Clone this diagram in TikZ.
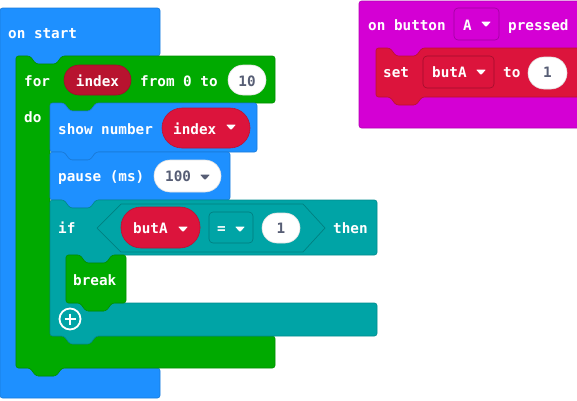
\documentclass[tikz,border=0pt]{standalone}
\usepackage{fontspec}
\newfontfamily\mcfont{DejaVu Sans Mono}
\definecolor{mcblue}{HTML}{1E90FF}
\definecolor{mcgreen}{HTML}{00AA00}
\definecolor{mcteal}{HTML}{00A4A6}
\definecolor{mcred}{HTML}{DC143C}
\definecolor{mcdark}{HTML}{B8132F}
\definecolor{mcmag}{HTML}{D400D4}
\definecolor{mcgray}{HTML}{575E75}
% small dropdown arrow
\newcommand\mctri[3]{\fill[#3, rounded corners=0.8pt] (#1-5,#2-2.5) -- (#1+5,#2-2.5) -- (#1,#2+3) -- cycle;}
\tikzset{
  dipR/.style 2 args={insert path={-- (#1+14,#2) -- (#1+20,#2+8) -- (#1+40,#2+8) -- (#1+46,#2)}},
  dipL/.style 2 args={insert path={-- (#1+46,#2) -- (#1+40,#2+8) -- (#1+20,#2+8) -- (#1+14,#2)}},
  block/.style={fill=#1, draw=#1!85!black, line width=0.6pt, rounded corners=2.5pt, line join=round},
  pill/.style 2 args={fill=#1, draw=#1!85!black, line width=0.6pt, rounded corners=#2},
  lbl/.style={font=\mcfont\bfseries\fontsize{14.3}{16}\selectfont, text=white, inner sep=0pt, anchor=base west},
  val/.style={lbl, text=mcgray},
}
\begin{document}
\begin{tikzpicture}[x=1pt,y=-1pt]
\useasboundingbox (0,0) rectangle (577,400);
\clip (0,0) rectangle (577,400);

% on start
\draw[block=mcblue] (0,8) -- (160,8) -- (160,56) [dipL={16}{56}] -- (16,56) -- (16,368)
  [dipR={16}{368}] -- (160,368) -- (160,398) -- (0,398) -- cycle;
% for loop
\draw[block=mcgreen] (16,56) [dipR={16}{56}] -- (275,56) -- (275,103) [dipL={50}{103}] -- (50,103)
  -- (50,336) [dipR={50}{336}] -- (275,336) -- (275,368) [dipL={16}{368}] -- (16,368) -- cycle;
% show number
\draw[block=mcblue] (50,103) [dipR={50}{103}] -- (257,103) -- (257,152) [dipL={50}{152}] -- (50,152) -- cycle;
% pause
\draw[block=mcblue] (50,152) [dipR={50}{152}] -- (230,152) -- (230,200) [dipL={50}{200}] -- (50,200) -- cycle;
% if
\draw[block=mcteal] (50,200) [dipR={50}{200}] -- (377,200) -- (377,255) [dipL={66}{255}] -- (66,255)
  -- (66,303) [dipR={66}{303}] -- (377,303) -- (377,336) [dipL={50}{336}] -- (50,336) -- cycle;
% break
\draw[block=mcgreen] (66,255) [dipR={66}{255}] -- (126,255) -- (126,303) [dipL={66}{303}] -- (66,303) -- cycle;

% button event
\draw[block=mcmag] (359,1) rectangle (582,128);
\draw[block=mcred] (376,48) [dipR={376}{48}] -- (582,48) -- (582,97) [dipL={376}{97}] -- (376,97) -- cycle;

% value slots
\draw[pill={mcdark}{15pt}] (64,65) rectangle (131,95);
\draw[pill={white}{15pt}, draw=black!12] (228,65) rectangle (266,95);
\draw[pill={mcred}{20pt}] (162,108) rectangle (250,148);
\draw[pill={white}{16pt}, draw=black!12] (154,160) rectangle (221,192);
\draw[fill=mcteal, draw=mcteal!78!black, line width=0.7pt, line join=round]
  (97,228) -- (121,204) -- (303,204) -- (325,228) -- (303,252) -- (121,252) -- cycle;
\draw[pill={mcred}{20pt}] (121,207) rectangle (200,248);
\draw[pill={mcteal}{4pt}, draw=mcteal!75!black] (209,212) rectangle (253,243);
\draw[pill={white}{15pt}, draw=black!12] (262,213) rectangle (300,243);
\draw[pill={mcmag}{4pt}, draw=mcmag!75!black] (454,8) rectangle (499,40);
\draw[pill={mcred}{4pt}, draw=mcred!72!black] (423,56) rectangle (494,88);
\draw[pill={white}{16pt}, draw=black!12] (528,57) rectangle (567,89);

% texts
\node[lbl] (onstart) at (8,38) {on start};
\node[lbl] (for) at (24,86) {for};
\node[lbl, anchor=base] (idxa) at (97.5,86) {index};
\node[lbl] (from) at (140,86) {from 0 to};
\node[val, anchor=base] (ten) at (247,86) {10};
\node[lbl] (do) at (24,122) {do};
\node[lbl] (show) at (58,134) {show number};
\node[lbl] (idxb) at (173,134) {index};
\mctri{231}{127}{white}
\node[lbl] (pause) at (58,181) {pause (ms)};
\node[val] (hund) at (165,181) {100};
\mctri{205}{177}{mcgray}
\node[lbl] (if) at (58,233) {if};
\node[lbl] (buta) at (133,233) {butA};
\mctri{183}{229}{white}
\node[lbl] (eq) at (217,233) {=};
\mctri{240}{229}{white}
\node[val, anchor=base] (onea) at (281,233) {1};
\node[lbl] (then) at (333,233) {then};
\node[lbl] (brk) at (73,285) {break};
\node[lbl] (onbtn) at (368,30) {on button};
\node[lbl] (btnA) at (463,30) {A};
\mctri{486}{24}{white}
\node[lbl] (pressed) at (508,30) {pressed};
\node[lbl] (set) at (383,77) {set};
\node[lbl] (butb) at (432,77) {butA};
\mctri{481}{72}{white}
\node[lbl] (to) at (503,77) {to};
\node[val, anchor=base] (oneb) at (547.5,77) {1};

% add-branch button
\node[circle, draw=white, line width=1.8pt, minimum size=21pt, inner sep=0pt] (plus) at (70,319) {};
\draw[white, line width=2.8pt] (plus.center) ++(-5.5,0) -- ++(11,0);
\draw[white, line width=2.8pt] (plus.center) ++(0,-5.5) -- ++(0,11);
\end{tikzpicture}
\end{document}
